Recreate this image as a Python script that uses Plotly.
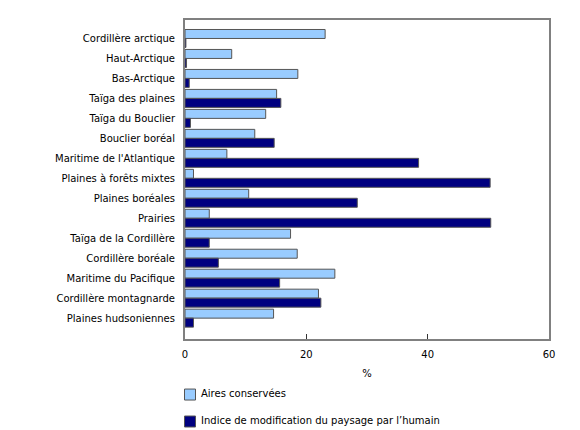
import plotly.graph_objects as go

categories = [
    "Cordillère arctique", "Haut-Arctique", "Bas-Arctique", "Taïga des plaines",
    "Taïga du Bouclier", "Bouclier boréal", "Maritime de l'Atlantique",
    "Plaines à forêts mixtes", "Plaines boréales", "Prairies",
    "Taïga de la Cordillère", "Cordillère boréale", "Maritime du Pacifique",
    "Cordillère montagnarde", "Plaines hudsoniennes",
]
aires_conservees = [23.1, 7.7, 18.6, 15.1, 13.3, 11.5, 6.9, 1.4, 10.5, 4.0,
                    17.4, 18.5, 24.7, 22.0, 14.6]
indice_modification = [0.15, 0.25, 0.7, 15.8, 0.9, 14.7, 38.5, 50.3, 28.4, 50.4,
                       4.0, 5.5, 15.6, 22.4, 1.4]
x_ticks = [0, 20, 40, 60]
series_names = ["Aires conservées", "Indice de modification du paysage par l’humain"]
series_colors = ["#99CCFF", "#000080"]

FONT = "DejaVu Sans"
W, H = 580, 430
L, R, T, B = 185, 31, 19.5, 0
plot_w = W - L - R
plot_h = H - T - B
axis_bottom_px = 339
dom_bottom = (H - B - axis_bottom_px) / plot_h

def py(px):
    return (H - B - px) / plot_h

def px_(x):
    return (x - L) / plot_w

fig = go.Figure()
for name, vals, col in zip(series_names, [aires_conservees, indice_modification], series_colors):
    fig.add_trace(go.Bar(
        y=categories, x=vals, orientation="h", name=name,
        marker=dict(color=col, line=dict(color="#555555", width=1)),
    ))

# legend drawn below the axis (swatch + label), stacked vertically
shapes, annotations = [], []
legend_rows = [394.5, 421.5]
for name, col, yc in zip(series_names, series_colors, legend_rows):
    shapes.append(dict(
        type="rect", xref="paper", yref="paper",
        x0=px_(184.5), x1=px_(195.5), y0=py(yc - 5.5), y1=py(yc + 5.5),
        fillcolor=col, line=dict(color="#555555", width=1),
    ))
    annotations.append(dict(
        text=name, xref="paper", yref="paper", x=px_(199), y=py(yc - 1),
        xanchor="left", yanchor="middle", showarrow=False,
        font=dict(family=FONT, size=10, color="black"),
    ))

fig.update_layout(
    width=W, height=H,
    margin=dict(l=L, r=R, t=T, b=B, pad=0),
    paper_bgcolor="white", plot_bgcolor="white",
    barmode="group", bargap=0.1, bargroupgap=0,
    font=dict(family=FONT, size=10, color="black"),
    showlegend=False,
    shapes=shapes, annotations=annotations,
    xaxis=dict(
        range=[0, 60], tickvals=x_ticks, ticktext=[str(v) for v in x_ticks],
        showgrid=False, zeroline=False,
        showline=True, linecolor="#808080", linewidth=2, mirror=True,
        ticks="inside", ticklen=5, tickcolor="#333333", tickwidth=1,
        ticklabelstandoff=5,
        title=dict(text="%", standoff=11, font=dict(family=FONT, size=10)),
        fixedrange=True,
    ),
    yaxis=dict(
        domain=[dom_bottom, 1],
        type="category", categoryorder="array", categoryarray=categories,
        range=[15.05, -0.925],
        showgrid=False, zeroline=False,
        showline=True, linecolor="#808080", linewidth=2, mirror=True,
        ticks="", ticklabelstandoff=6,
        fixedrange=True,
    ),
)

fig.write_html("out.html")
